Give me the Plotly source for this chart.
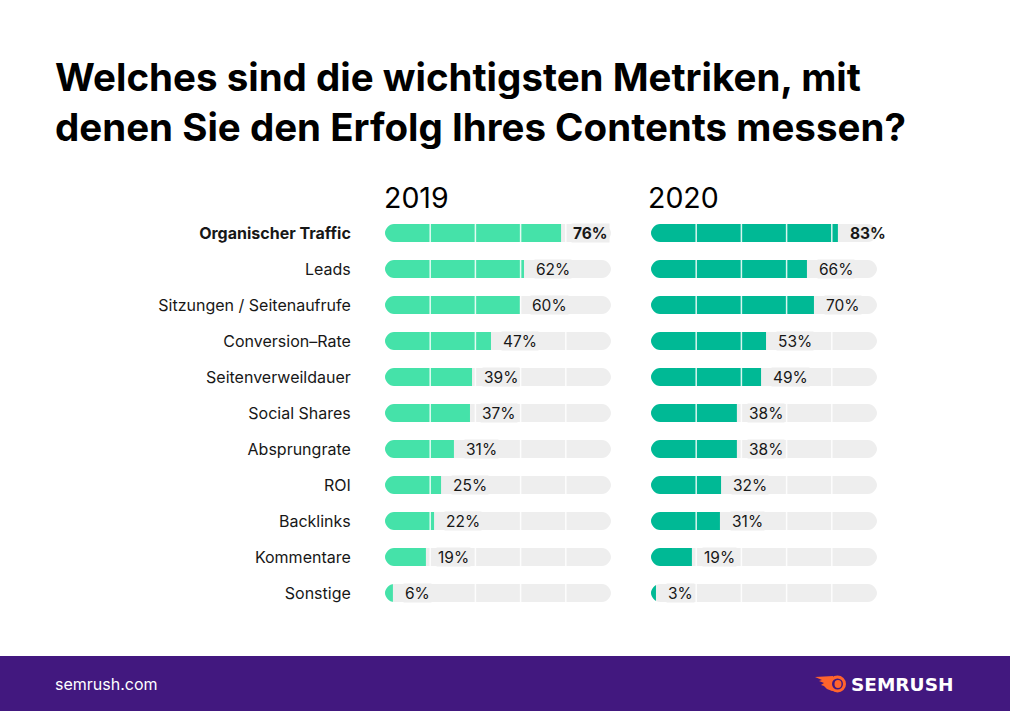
import plotly.graph_objects as go

W = 1010
H = 711

categories = ["Organischer Traffic", "Leads", "Sitzungen / Seitenaufrufe", "Conversion–Rate",
              "Seitenverweildauer", "Social Shares", "Absprungrate", "ROI", "Backlinks",
              "Kommentare", "Sonstige"]
# printed labels
labels_2019 = [76, 62, 60, 47, 39, 37, 31, 25, 22, 19, 6]
labels_2020 = [83, 66, 70, 53, 49, 38, 38, 32, 31, 19, 3]
# bar lengths as drawn (they differ a bit from the printed numbers)
bars_2019 = [77.9, 61.5, 59.7, 46.9, 38.5, 37.6, 30.5, 24.8, 21.7, 18.1, 3.5]
bars_2020 = [82.7, 69.0, 72.1, 50.9, 48.7, 38.0, 38.0, 31.0, 30.5, 18.1, 2.2]
track = [100] * len(categories)
grid_lines = [20, 40, 60, 80]


def px_x(x):
    return x / W


def px_y(y):
    return 1 - y / H


fig = go.Figure()

# (xaxis, yaxis, bar lengths, printed labels, colour, year, year label x)
panels = [
    ("x", "y", bars_2019, labels_2019, "#45E2A9", "2019", 382),
    ("x2", "y2", bars_2020, labels_2020, "#00B995", "2020", 646),
]

annotations = []
shapes = []

# footer band goes under everything
shapes.append(dict(type="rect", xref="paper", yref="paper", x0=0, x1=1,
                   y0=0, y1=px_y(656), fillcolor="#42187F", line_width=0, layer="below"))

for xa, ya, bars, labels, colour, year, year_x in panels:
    fig.add_trace(go.Bar(y=categories, x=track, orientation="h", xaxis=xa, yaxis=ya,
                         marker_color="#EEEEEE", marker_line_width=0, width=0.5,
                         hoverinfo="skip", showlegend=False))
    fig.add_trace(go.Bar(y=categories, x=bars, orientation="h", xaxis=xa, yaxis=ya,
                         marker_color=colour, marker_line_width=0, width=0.5,
                         name=year, showlegend=False))

    # white separators on top of the bars
    for g in grid_lines:
        shapes.append(dict(type="line", xref=xa, yref="paper", x0=g, x1=g,
                           y0=px_y(611), y1=px_y(215),
                           line=dict(color="rgba(255,255,255,0.85)", width=1.5)))

    for i, cat in enumerate(categories):
        # round the row ends by masking the corners white
        shapes.append(dict(type="path", xref=xa, yref=ya, xsizemode="pixel", ysizemode="pixel",
                           xanchor=0, yanchor=cat, fillcolor="white", line_width=0,
                           path="M -2 -10 L 9 -10 L 9 -9 C 4.03 -9 0 -4.03 0 0 "
                                "C 0 4.03 4.03 9 9 9 L 9 10 L -2 10 Z"))
        shapes.append(dict(type="path", xref=xa, yref=ya, xsizemode="pixel", ysizemode="pixel",
                           xanchor=100, yanchor=cat, fillcolor="white", line_width=0,
                           path="M 2 -10 L -9 -10 L -9 -9 C -4.03 -9 0 -4.03 0 0 "
                                "C 0 4.03 -4.03 9 -9 9 L -9 10 L 2 10 Z"))

        txt = f"{labels[i]}%"
        if i == 0:
            txt = f"<b>{txt}</b>"
        annotations.append(dict(x=bars[i], y=cat, xref=xa, yref=ya, text=txt, showarrow=False,
                                xanchor="left", yanchor="middle", xshift=10, height=16,
                                borderpad=1, align="left",
                                bgcolor=None if bars[i] > 80 else "#EEEEEE",
                                font=dict(family="Inter", size=15.5, color="#171717")))

    annotations.append(dict(x=px_x(year_x), y=px_y(198), xref="paper", yref="paper", text=year,
                            showarrow=False, xanchor="left", yanchor="middle",
                            font=dict(family="Inter", size=28.5, color="#000000")))

annotations.append(dict(x=px_x(53), y=px_y(684), xref="paper", yref="paper", text="semrush.com",
                        showarrow=False, xanchor="left", yanchor="middle",
                        font=dict(family="Inter", size=16, color="#FFFFFF")))
annotations.append(dict(x=px_x(849), y=px_y(684), xref="paper", yref="paper", text="<b>SEMRUSH</b>",
                        showarrow=False, xanchor="left", yanchor="middle",
                        font=dict(family="DejaVu Sans", size=18.5, color="#FFFFFF")))


def logo_path(points):
    return "M " + " L ".join(f"{px_x(x):.5f} {px_y(y):.5f}" for x, y in points) + " Z"


# logo: flame tail, then ball with a purple ring cut into it
shapes.append(dict(type="path", xref="paper", yref="paper", fillcolor="#FF642D", line_width=0,
                   path=logo_path([(815, 677), (833, 676), (838, 690), (832, 691), (827, 689),
                                   (824, 686), (821, 685), (824, 683), (819, 681), (822, 680)])))
shapes.append(dict(type="circle", xref="paper", yref="paper", fillcolor="#FF642D", line_width=0,
                   x0=px_x(829), x1=px_x(846), y0=px_y(692.5), y1=px_y(675.5)))
shapes.append(dict(type="circle", xref="paper", yref="paper", fillcolor="#42187F", line_width=0,
                   x0=px_x(832), x1=px_x(843), y0=px_y(689.5), y1=px_y(678.5)))
shapes.append(dict(type="circle", xref="paper", yref="paper", fillcolor="#FF642D", line_width=0,
                   x0=px_x(834.5), x1=px_x(841.5), y0=px_y(688), y1=px_y(680)))

fig.update_layout(
    width=W,
    height=H,
    margin=dict(l=0, r=0, t=0, b=0),
    paper_bgcolor="white",
    plot_bgcolor="white",
    barmode="overlay",
    title=dict(text="Welches sind die wichtigsten Metriken, mit<br>denen Sie den Erfolg Ihres Contents messen?",
               x=px_x(55), xanchor="left", xref="paper", y=px_y(91), yanchor="middle", yref="paper",
               font=dict(family="Inter", size=38.5, color="#000000", weight=700)),
    xaxis=dict(domain=[px_x(385), px_x(611)], range=[0, 100], visible=False, fixedrange=True),
    xaxis2=dict(domain=[px_x(651), px_x(877)], range=[0, 100], visible=False, fixedrange=True),
    yaxis=dict(domain=[px_y(611), px_y(215)], range=[10.5, -0.5], type="category",
               categoryorder="array", categoryarray=categories, anchor="x",
               tickvals=categories,
               ticktext=[f"<b>{c}</b>" if i == 0 else c for i, c in enumerate(categories)],
               ticks="outside", ticklen=30, tickcolor="rgba(0,0,0,0)", showline=False,
               showgrid=False, zeroline=False, fixedrange=True,
               tickfont=dict(family="Inter", size=16, color="#171717")),
    yaxis2=dict(domain=[px_y(611), px_y(215)], range=[10.5, -0.5], type="category",
                categoryorder="array", categoryarray=categories, anchor="x2",
                showticklabels=False, showgrid=False, zeroline=False, fixedrange=True),
    annotations=annotations,
    shapes=shapes,
)

fig.write_html("out.html", config={"displayModeBar": False},
               post_script="document.body.style.margin='0';")
